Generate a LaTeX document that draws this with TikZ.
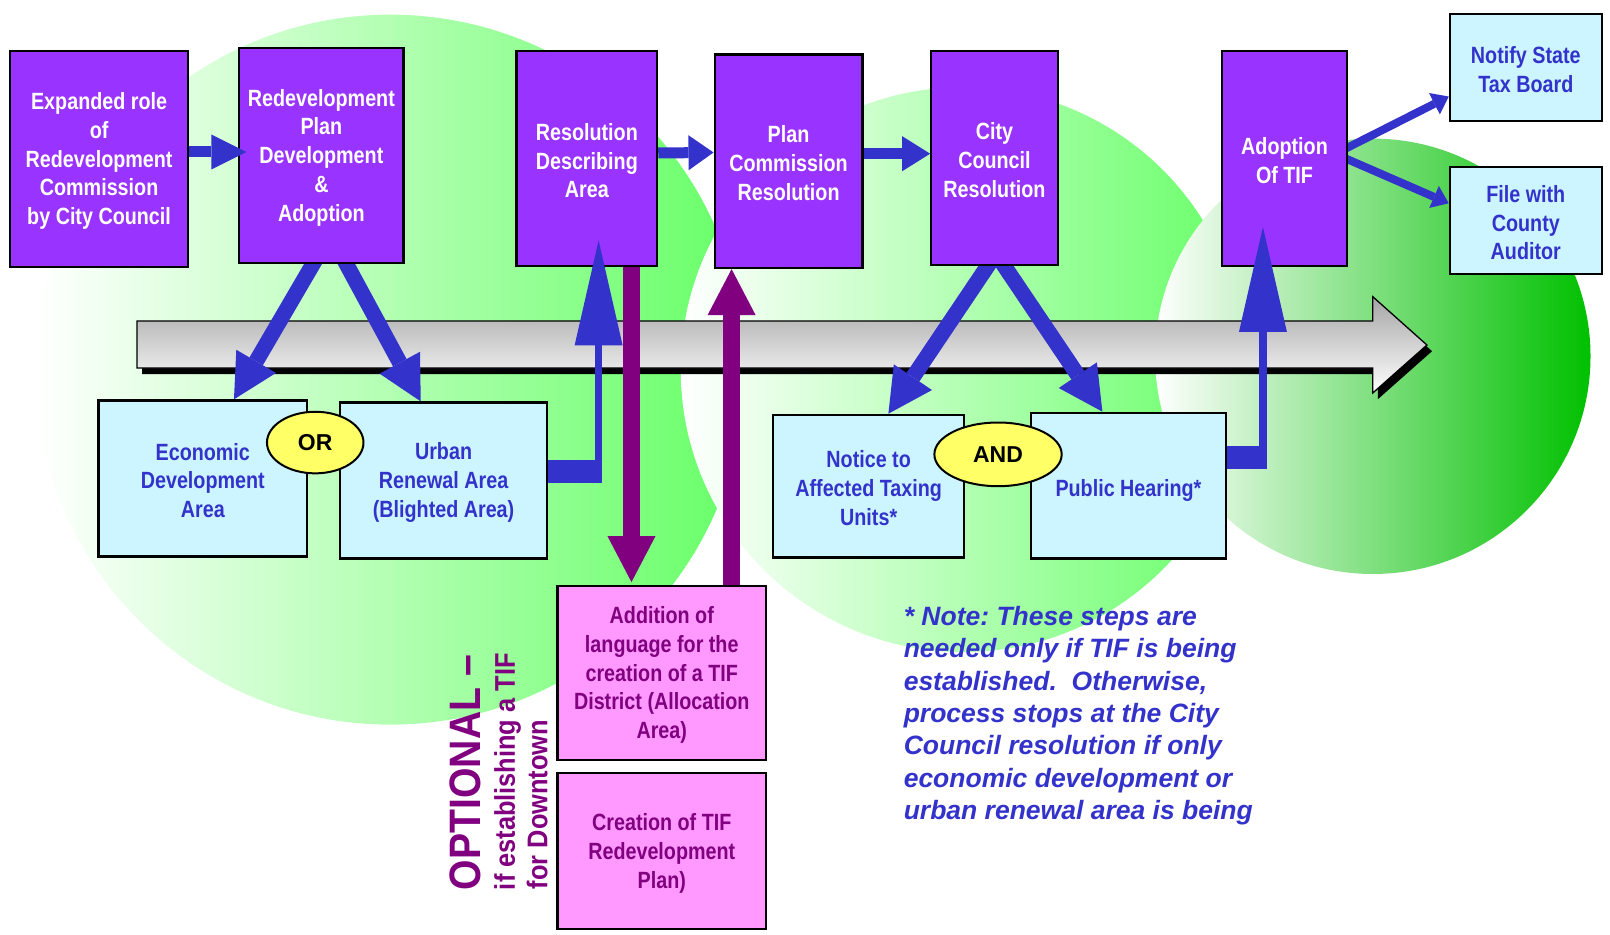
\documentclass[tikz,border=0pt]{standalone}
\usepackage{fontspec}
\setmainfont{Liberation Sans}
\newfontfamily\nar{Liberation Sans}[FakeStretch=0.84]
\newfontfamily\optf{Liberation Sans}[FakeStretch=0.89]
\usetikzlibrary{arrows.meta,calc,shapes.geometric}
\definecolor{boxpurple}{HTML}{9933FF}
\definecolor{boxcyan}{RGB}{204,245,255}
\definecolor{boxpink}{HTML}{FF99FF}
\definecolor{arrowblue}{HTML}{3333CC}
\definecolor{optpurple}{HTML}{800080}
\definecolor{tagyellow}{HTML}{FFFF66}
\definecolor{lgreen}{HTML}{66FF66}
\definecolor{dgreen}{HTML}{00C000}
\pgfdeclarelayer{back}
\pgfdeclarelayer{under}
\pgfdeclarelayer{over}
\pgfsetlayers{back,under,main,over}
\frenchspacing
\newcommand\mkbox[8][21pt]{%
  \pgfmathsetmacro\bw{(#5-#3)*1.0268}%
  \pgfmathsetmacro\bh{(#6-#4)*1.0268}%
  \node[#7, minimum width=\bw pt, minimum height=\bh pt] (#2) at ({(#3+#5)/2},{(#4+#6)/2}) {\rule{0pt}{#1}#8};}
\begin{document}
\begin{tikzpicture}[x=1.0268pt, y=-1.0268pt,
  pbox/.style={draw=black, line width=2.2pt, fill=boxpurple, text=white, align=center, inner sep=0pt,
    font=\nar\bfseries\fontsize{23.5}{28.75}\selectfont},
  cbox/.style={pbox, fill=boxcyan, text=arrowblue},
  kbox/.style={pbox, fill=boxpink, text=optpurple},
  tagell/.style={ellipse, draw=black, line width=2pt, fill=tagyellow, inner sep=0pt,
    font=\bfseries\fontsize{23}{26}\selectfont},
  harr/.style={draw=arrowblue, line width=11pt, -{Triangle[length=#1,width=35pt,line width=0pt]}},
  harr/.default=30pt,
  diagarr/.style={draw=arrowblue, line width=15.5pt, -{Triangle[length=44pt,width=46pt,line width=0pt]}},
  thinarr/.style={draw=arrowblue, line width=8pt, -{Triangle[length=16pt,width=24pt,line width=0pt]}},
  uparr/.style={draw=arrowblue, line width=7.5pt, -{Triangle[length=105pt,width=48pt,line width=0pt]}},
  elbar/.style={draw=arrowblue, line width=23pt},
  parr/.style={draw=optpurple, line width=17pt, -{Triangle[length=46pt,width=48pt,line width=0pt]}},
  optxt/.style={rotate=90, anchor=base west, inner sep=0pt, text=optpurple},
]
\useasboundingbox (0,0) rectangle (1568,910);
\begin{pgfonlayer}{back}
  \fill[white] (0,0) rectangle (1568,910);
  \shade[left color=white, right color=lgreen] (380,360) circle[radius=355pt];
  \shade[left color=white, right color=lgreen] (938,360) circle[radius=282.4pt];
  \shade[left color=white, right color=dgreen] (1337,347) circle[radius=217.7pt];
  % big gray process arrow
  \fill[black] ([shift={(5,6)}]133.4,312.6) -- ([shift={(5,6)}]1337,312.6) -- ([shift={(5,6)}]1337,289)
     -- ([shift={(5,6)}]1389.7,336) -- ([shift={(5,6)}]1337,382.7) -- ([shift={(5,6)}]1337,358.4)
     -- ([shift={(5,6)}]133.4,358.4) -- cycle;
  \shade[top color=black!35, bottom color=white, draw=black, line width=1.3pt]
     (133.4,312.6) -- (1337,312.6) -- (1337,289) -- (1389.7,336) -- (1337,382.7) -- (1337,358.4)
     -- (133.4,358.4) -- cycle;
\end{pgfonlayer}

% boxes
\mkbox{b1}{10}{50}{183}{260}{pbox}{Expanded role\\of\\Redevelopment\\Commission\\by City Council}
\mkbox{b2}{233}{47}{393}{256}{pbox}{Redevelopment\\Plan\\Development\\\&\\Adoption}
\mkbox{b3}{503}{50}{640}{259}{pbox}{Resolution\\Describing\\Area}
\mkbox{b4}{696}{53}{840}{261}{pbox}{Plan\\Commission\\Resolution}
\mkbox{b5}{907}{50}{1030}{258}{pbox}{City\\Council\\Resolution}
\mkbox{b6}{1190}{50}{1312}{259}{pbox}{Adoption\\Of TIF}
\mkbox{b7}{1412}{14}{1560}{118}{cbox}{Notify State\\Tax Board}
\mkbox{b8}{1412}{163}{1560}{267}{cbox}{File with\\County\\Auditor}
\mkbox{b9}{96}{390}{299}{542}{cbox}{Economic\\Development\\Area}
\mkbox{b10}{331}{392}{533}{544}{cbox}{Urban\\Renewal Area\\(Blighted Area)}
\mkbox{b11}{753}{404}{939}{543}{cbox}{Notice to\\Affected Taxing\\Units*}
\mkbox[27pt]{b12}{1004}{402}{1194}{544}{cbox}{Public Hearing*}
\mkbox{b13}{543}{571}{746}{740}{kbox}{Addition of\\language for the\\creation of a TIF\\District (Allocation\\Area)}
\mkbox{b14}{543}{753}{746}{905}{kbox}{Creation of TIF\\Redevelopment\\Plan)}

\node[tagell, minimum width=96.5pt, minimum height=61.6pt] (or) at (307,431) {OR};
\node[tagell, minimum width=127.3pt, minimum height=63.7pt] (and) at (972,442.5) {AND};

% optional label
\node[optxt, font=\optf\bfseries\fontsize{44}{50}\selectfont] (opt1) at (467.5,867) {OPTIONAL –};
\node[optxt, font=\optf\bfseries\fontsize{28.5}{32}\selectfont] (opt2) at (501.5,867) {if establishing a TIF};
\node[optxt, font=\optf\bfseries\fontsize{28.5}{32}\selectfont] (opt3) at (533,866) {for Downtown};

% note
\node[anchor=north west, inner sep=0pt, align=left, text=arrowblue,
      font=\bfseries\itshape\fontsize{26.5}{32.4}\selectfont] (note) at (880,590)
  {* Note: These steps are\\needed only if TIF is being\\established.~ Otherwise,\\process stops at the City\\Council resolution if only\\economic development or\\urban renewal area is being};

% connectors under the boxes
\coordinate (s1) at ($(b2.south west)!0.45!(b2.south east)$);
\coordinate (t1) at ($(b9.north west)!0.648!(b9.north east)$);
\coordinate (s2) at ($(b2.south west)!0.65!(b2.south east)$);
\coordinate (t2) at ($(b10.north west)!0.391!(b10.north east)$);
\coordinate (s3) at ($(b5.south west)!0.447!(b5.south east)$);
\coordinate (t3) at ($(b11.north west)!0.602!(b11.north east)$);
\coordinate (s4) at ($(b5.south west)!0.577!(b5.south east)$);
\coordinate (t4) at ($(b12.north west)!0.368!(b12.north east)$);
\coordinate (j1) at (583,459);
\coordinate (j2) at (1230,446);
\begin{pgfonlayer}{under}
  \draw[diagarr] ($(t1)!1.1!(s1)$) -- (t1);
  \draw[diagarr] ($(t2)!1.1!(s2)$) -- (t2);
  \draw[diagarr] ($(t3)!1.1!(s3)$) -- (t3);
  \draw[diagarr] ($(t4)!1.1!(s4)$) -- (t4);
  \draw[elbar] ($(b10.east |- j1)+(-10,0)$) -- ($(j1)+(3.5,0)$);
  \draw[elbar] ($(b12.east |- j2)+(-10,0)$) -- ($(j2)+(4,0)$);
  \draw[parr] ($(b3.south)+(43.5,-10)$) -- ($(b13.north)+(-29.5,-3)$);
  \draw[parr] ($(b13.north)+(68,10)$) -- ($(b4.south)+(-55.5,0)$);
  \draw[thinarr] ($(b6.east)+(-10,-6)$) -- ($(b7.west)+(0,28)$);
  \draw[thinarr] ($(b6.east)+(-10,-3.4)$) -- ($(b8.west)+(0,-17)$);
\end{pgfonlayer}

% connectors over the boxes
\begin{pgfonlayer}{over}
  \draw[harr=35pt] ($(b1.east)+(0,-7)$) -- ($(b2.west)+(8,-3.5)$);
  \draw[harr=25pt] ($(b3.east)+(0,-5.5)$) -- ($(b4.west)+(0,-8.5)$);
  \draw[harr=28pt] ($(b4.east)+(0,-7.3)$) -- ($(b5.west)+(0,-4.3)$);
  \draw[uparr] ($(j1)+(0,11)$) -- ($(b3.south -| j1)+(0,-26)$);
  \draw[uparr] ($(j2)+(0,11)$) -- ($(b6.south -| j2)+(0,-39)$);
\end{pgfonlayer}
\end{tikzpicture}
\end{document}
